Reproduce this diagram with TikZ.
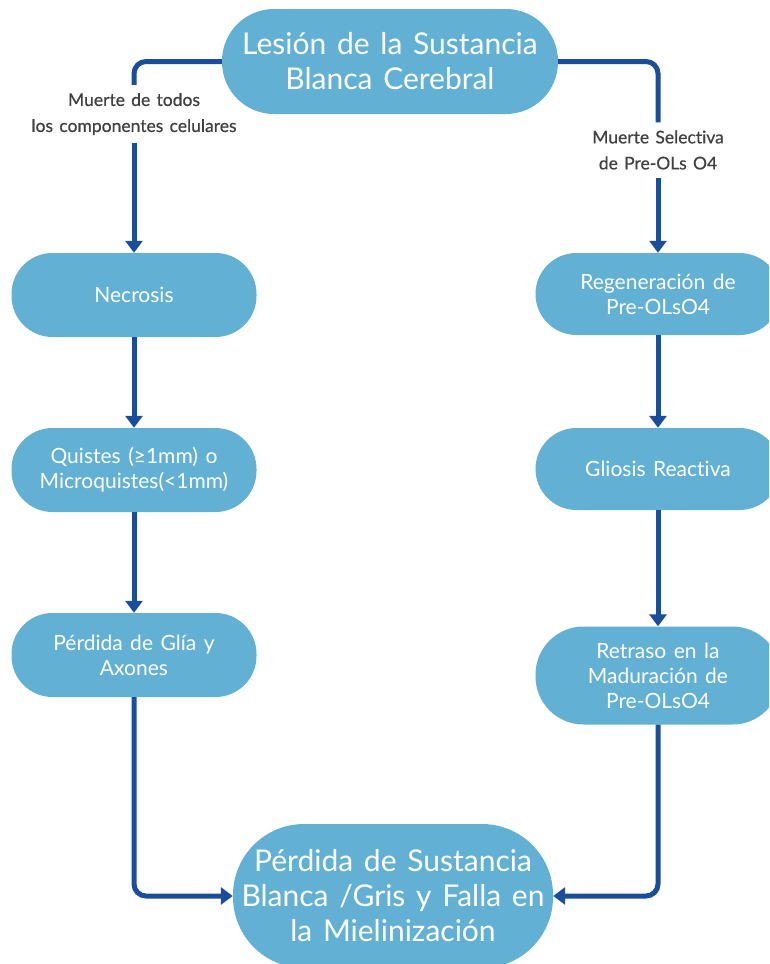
\documentclass[tikz,border=0pt]{standalone}
\usepackage{fontspec}
\setmainfont{Lato}[Ligatures={NoCommon}, WordSpace=1.4]
\newfontfamily\labelfont{Lato}[Ligatures={NoCommon}, WordSpace=1.4, FakeBold=0.6]
\usetikzlibrary{arrows.meta}
\definecolor{boxblue}{HTML}{62B1D5}
\definecolor{arrowblue}{HTML}{1A4D9A}
\definecolor{labgray}{HTML}{404040}
\tikzset{
  stadium/.style={fill=boxblue, draw=none, text=white, align=center, inner sep=0pt},
  flowbox/.style={stadium, minimum width=245pt, minimum height=84pt, rounded corners=41pt, font=\fontsize{21}{25}\selectfont},
  bigbox/.style={stadium, font=\fontsize{30}{35}\selectfont},
  line/.style={draw=arrowblue, line width=5pt, rounded corners=12pt},
  conn/.style={line, -{Triangle[width=17pt,length=12pt]}},
  edgelabel/.style={text=labgray, align=center, inner xsep=2pt, inner ysep=8pt, font=\labelfont\fontsize{17.5}{26}\selectfont}
}
\begin{document}
\begin{tikzpicture}[x=1pt,y=-1pt]
\useasboundingbox (0,0) rectangle (769,964);
\clip (0,0) rectangle (769,964);
\node[bigbox, minimum width=336pt, minimum height=105pt, rounded corners=52pt] (top) at (390,61.5) {Lesión de la Sustancia\\Blanca Cerebral};
\node[flowbox] (nec) at (134,295) {Necrosis};
\node[flowbox] (qui) at (134,470) {Quistes (≥1mm) o\\Microquistes(<1mm)};
\node[flowbox] (per) at (134,655) {Pérdida de Glía y\\Axones};
\node[flowbox, minimum height=82pt] (reg) at (658,294) {Regeneración de\\Pre-OLsO4};
\node[flowbox, minimum height=82pt] (gli) at (658,469) {Gliosis Reactiva};
\node[flowbox, minimum height=98pt, rounded corners=48pt] (ret) at (658,675.5) {Retraso en la\\Maduración de\\Pre-OLsO4};
\node[bigbox, minimum width=320pt, minimum height=144pt, rounded corners=71pt] (bot) at (393,896) {Pérdida de Sustancia\\Blanca /Gris y Falla en\\la Mielinización};
\node[edgelabel] (lab1) at (134,114) {Muerte de todos\\los componentes celulares};
\node[edgelabel] (lab2) at (658,150) {Muerte Selectiva\\de Pre-OLs O4};
\draw[line] (top.west) -| (lab1.north);
\draw[conn] (lab1.south) -- (nec.north);
\draw[line] (top.east) -| (lab2.north);
\draw[conn] (lab2.south) -- (reg.north);
\draw[conn] (nec) -- (qui);
\draw[conn] (qui) -- (per);
\draw[conn] (per.south) |- (bot.west);
\draw[conn] (reg) -- (gli);
\draw[conn] (gli) -- (ret);
\draw[conn] (ret.south) |- (bot.east);
\end{tikzpicture}
\end{document}
